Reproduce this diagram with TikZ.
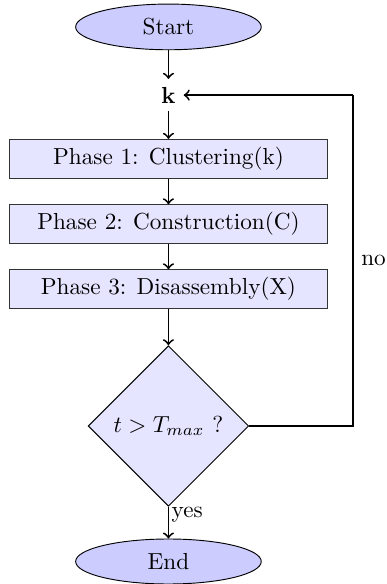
\documentclass[tikz,border=0pt]{standalone}
\usetikzlibrary{shapes.geometric}
\begin{document}
\begin{tikzpicture}[
  x=1pt,y=1pt,
  terminal/.style={ellipse,draw,fill=blue!20,minimum width=80pt,inner sep=3.33pt},
  phasebox/.style={rectangle,draw=black!80,fill=blue!10,minimum width=137pt},
  decision/.style={diamond,draw,fill=blue!10,aspect=1},
  flow/.style={draw,thick,->},
  link/.style={draw,thick}
]
\useasboundingbox (0,0) rectangle (166.4,-251.7);
\node[terminal] (start) at (72.6,-11.6) {Start};
\node (k) at (72.6,-41) {\textbf{k}};
\node[phasebox] (p1) at (72.6,-68.4) {Phase 1: Clustering(k)};
\node[phasebox] (p2) at (72.6,-96.6) {Phase 2: Construction(C)};
\node[phasebox] (p3) at (72.6,-124.6) {Phase 3: Disassembly(X)};
\node[decision] (test) at (72.6,-183.6) {$t > T_{max}$ ?};
\node[terminal] (end) at (72.6,-242) {End};
\coordinate (cr) at (152,-183.6);
\coordinate (ck) at (152,-41);

\path[flow] (start) -- (k);
\path[flow] (k) -- (p1);
\path[flow] (p1) -- (p2);
\path[flow] (p2) -- (p3);
\path[flow] (p3) -- (test);
\path[flow] (test) -- node[near start,right,inner sep=1pt] {yes} (end);
\path[link] (test.east) -- (cr) -- node[right] {no} (ck);
\path[flow] (ck) -- (k);
\end{tikzpicture}
\end{document}
